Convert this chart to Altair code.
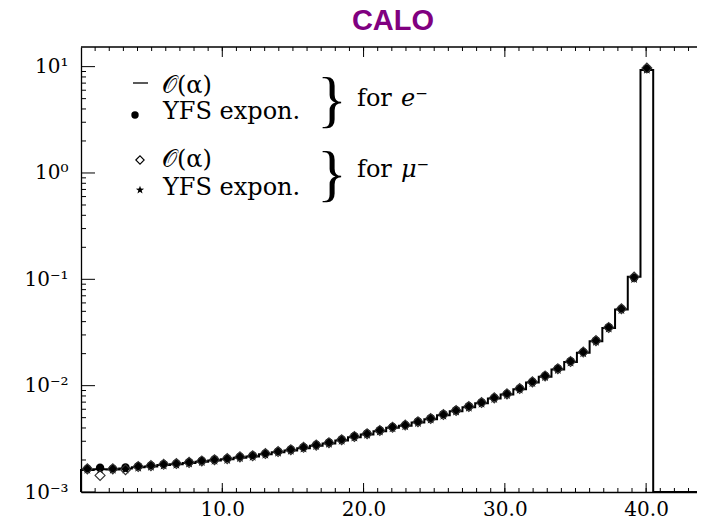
import altair as alt
import pandas as pd

# ---------------- data ----------------
# histogram bins: 45 bins of width 0.9 from 0 to 40.5
bin_edges = [round(0.9 * i, 2) for i in range(46)]
# values in units of 1e-3
hist_oa_e = [1.61, 1.64, 1.63, 1.66, 1.71, 1.74, 1.79, 1.82, 1.87, 1.93,
             1.98, 2.03, 2.10, 2.16, 2.26, 2.36, 2.46, 2.58, 2.72, 2.86,
             3.05, 3.28, 3.48, 3.73, 4.01, 4.19, 4.50, 4.84, 5.27, 5.75,
             6.27, 6.83, 7.56, 8.24, 9.25, 10.7, 12.15, 14.2, 16.65, 20.4,
             26.1, 34.8, 52.0, 106.0, 9300.0]
yfs_e = [1.66, 1.69, 1.66, 1.70, 1.75, 1.78, 1.83, 1.86, 1.91, 1.97,
         2.02, 2.07, 2.15, 2.21, 2.31, 2.41, 2.51, 2.64, 2.78, 2.92,
         3.12, 3.35, 3.55, 3.81, 4.10, 4.28, 4.60, 4.94, 5.38, 5.87,
         6.40, 6.97, 7.72, 8.41, 9.44, 10.9, 12.4, 14.5, 17.0, 20.8,
         26.6, 35.5, 53.0, 104.0, 9600.0]
oa_mu = [1.65, 1.43, 1.65, 1.62, 1.74, 1.77, 1.82, 1.85, 1.90, 1.96,
         2.01, 2.06, 2.14, 2.19, 2.30, 2.40, 2.50, 2.63, 2.76, 2.91,
         3.10, 3.33, 3.53, 3.79, 4.07, 4.26, 4.57, 4.91, 5.35, 5.84,
         6.37, 6.93, 7.68, 8.37, 9.39, 10.85, 12.35, 14.45, 16.9, 20.7,
         26.5, 35.3, 52.8, 105.0, 9700.0]
yfs_mu = [1.62, 1.62, 1.62, 1.63, 1.70, 1.73, 1.78, 1.81, 1.86, 1.92,
          1.97, 2.01, 2.09, 2.15, 2.25, 2.35, 2.45, 2.57, 2.71, 2.85,
          3.04, 3.26, 3.46, 3.71, 3.99, 4.17, 4.48, 4.81, 5.24, 5.72,
          6.23, 6.79, 7.52, 8.19, 9.19, 10.6, 12.1, 14.1, 16.55, 20.25,
          25.9, 34.6, 51.6, 101.0, 9400.0]

x_major = [10, 20, 30, 40]
x_minor = list(range(1, 44))
y_major = [1e-3, 1e-2, 1e-1, 1.0, 10.0]
y_minor = [k * 10.0 ** n for n in (-3, -2, -1, 0) for k in range(2, 10)]

# ---------------- layout ----------------
W, H = 616, 445
X_MAX = 43.6
Y_MIN, Y_MAX = 1e-3, 15.3
SERIF = "DejaVu Serif"

xs = alt.Scale(domain=[0, X_MAX], nice=False, zero=False)
ys = alt.Scale(type="log", domain=[Y_MIN, Y_MAX], nice=False)

ylab = ("datum.value > 5 ? '10¹' : datum.value > 0.5 ? '10⁰' : "
        "datum.value > 0.05 ? '10⁻¹' : datum.value > 0.005 ? '10⁻²' : '10⁻³'")

AX = alt.Axis(values=x_major, format=".1f", labelFont=SERIF, labelFontSize=20,
              labelColor="black", ticks=False, tickSize=0, grid=False,
              title=None, domainColor="black", domainWidth=1.3,
              labelPadding=7, labelFlush=False, labelOverlap=False)
AY = alt.Axis(values=y_major, labelExpr=ylab, labelFont=SERIF,
              labelFontSize=20, labelColor="black", ticks=False, tickSize=0,
              grid=False, title=None, domainColor="black", domainWidth=1.3,
              labelPadding=13, labelFlush=False, labelOverlap=False,
              labelBound=False)

def X(field):
    return alt.X(field, type="quantitative", scale=xs, axis=AX)

def Y(field):
    return alt.Y(field, type="quantitative", scale=ys, axis=AY)

centers = [(a + b) / 2 for a, b in zip(bin_edges[:-1], bin_edges[1:])]
pts = pd.DataFrame({
    "x": centers,
    "yfs_e": [v * 1e-3 for v in yfs_e],
    "oa_mu": [v * 1e-3 for v in oa_mu],
    "yfs_mu": [v * 1e-3 for v in yfs_mu],
})

step = pd.DataFrame({
    "x": [0.0] + bin_edges[:-1] + [bin_edges[-1], X_MAX],
    "y": [Y_MIN] + [v * 1e-3 for v in hist_oa_e] + [Y_MIN, Y_MIN],
})
step["i"] = range(len(step))

line = alt.Chart(step).mark_line(interpolate="step-after", color="black",
                                 strokeWidth=2).encode(
    x=X("x"), y=Y("y"), order="i:Q")

STAR = ("M0,-1L0.235,-0.324L0.951,-0.309L0.38,0.124L0.588,0.809L0,0.4"
        "L-0.588,0.809L-0.38,0.124L-0.951,-0.309L-0.235,-0.324Z")

def markers(field, **kw):
    return alt.Chart(pts).mark_point(opacity=1, **kw).encode(
        x=X("x"), y=Y(field))

stars = markers("yfs_mu", shape=STAR, filled=True, color="black", size=105)
dots = markers("yfs_e", shape="circle", filled=True, color="black", size=70)
diamonds = markers("oa_mu", shape="diamond", filled=False, color="#333333",
                   strokeWidth=1.1, size=100)

one = pd.DataFrame({"d": [0]})

def tick_rules(vals, channel, start, length):
    df = pd.DataFrame({"v": vals})
    if channel == "x":
        enc = dict(x=X("v"), y=alt.value(start), y2=alt.value(start + length))
    else:
        enc = dict(y=Y("v"), x=alt.value(start), x2=alt.value(start + length))
    return alt.Chart(df).mark_rule(color="black", strokeWidth=1).encode(**enc)

ticks = [
    tick_rules(x_minor, "x", H, -4),
    tick_rules(x_major, "x", H, -9),
    tick_rules(x_minor, "x", 0, 4),
    tick_rules(x_major, "x", 0, 10),
    tick_rules(y_minor, "y", 0, 5),
    tick_rules(y_major, "y", 0, 14),
]

top_line = alt.Chart(one).mark_rule(color="black", strokeWidth=1.3).encode(
    x=alt.value(0), x2=alt.value(W), y=alt.value(0))

def txt(s, x, y, size=24, font=SERIF, **kw):
    return alt.Chart(pd.DataFrame({"t": [s]})).mark_text(
        font=font, fontSize=size, align="left", baseline="alphabetic",
        color="black", **kw).encode(x=alt.value(x), y=alt.value(y), text="t:N")

title = alt.Chart(pd.DataFrame({"t": ["CALO"]})).mark_text(
    font="Liberation Sans", fontSize=29, fontWeight="bold", color="#800080",
    baseline="alphabetic", align="center").encode(
    x=alt.value(312), y=alt.value(-17), text="t:N")

leg_dash = alt.Chart(one).mark_rule(color="black", strokeWidth=1.3).encode(
    x=alt.value(52), x2=alt.value(67), y=alt.value(36))
leg_dot = alt.Chart(one).mark_point(shape="circle", filled=True, color="black",
                                    size=55, opacity=1).encode(
    x=alt.value(54), y=alt.value(68))
leg_diam = alt.Chart(one).mark_point(shape="diamond", filled=False,
                                     color="black", size=70, strokeWidth=1.1,
                                     opacity=1).encode(
    x=alt.value(59), y=alt.value(113))
leg_star = alt.Chart(one).mark_point(shape=STAR, filled=True, color="black",
                                     size=75, opacity=1).encode(
    x=alt.value(59), y=alt.value(143))

legend = [
    leg_dash, leg_dot, leg_diam, leg_star,
    txt("𝒪(α)", 81, 46),
    txt("YFS expon.", 82, 72),
    txt("𝒪(α)", 81, 120),
    txt("YFS expon.", 82, 148),
    txt("}", 236, 73, size=62, font="Liberation Serif"),
    txt("}", 236, 147, size=62, font="Liberation Serif"),
    txt("for", 276, 59),
    txt("e⁻", 320, 59, fontStyle="italic"),
    txt("for", 276, 130),
    txt("μ⁻", 320, 130, fontStyle="italic"),
]

chart = alt.layer(
    line, *ticks, top_line, stars, dots, diamonds, title, *legend
).properties(
    width=W, height=H,
    autosize=alt.AutoSizeParams(type="none"),
    padding={"left": 73, "top": 39, "right": 0, "bottom": 28},
).configure_view(stroke=None)

chart.save("out.html", embed_options={"renderer": "svg", "actions": False})
